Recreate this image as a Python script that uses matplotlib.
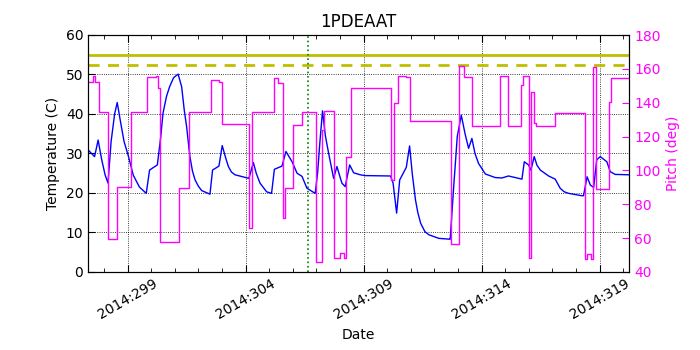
import matplotlib
matplotlib.use("Agg")
import matplotlib.pyplot as plt
from matplotlib.ticker import FuncFormatter, MultipleLocator

# Temperature trace (day of year 2014, deg C)
temp_days = [297.36, 297.60, 297.75, 297.90, 298.05, 298.17, 298.30, 298.45,
             298.56, 298.70, 298.85, 299.02, 299.24, 299.50,
             299.79, 299.93, 300.26, 300.40, 300.50, 300.65, 300.78, 300.95,
             301.14, 301.29, 301.40, 301.50,
             301.64, 301.75, 301.86, 302.00, 302.14, 302.49, 302.60, 302.87,
             303.01, 303.15, 303.27, 303.40,
             303.55, 304.14, 304.33, 304.45, 304.61, 304.89, 305.10, 305.22,
             305.54, 305.71, 305.97, 306.18, 306.39, 306.60, 306.95, 307.05,
             307.15, 307.26, 307.38, 307.52,
             307.73, 307.87, 308.08, 308.22, 308.41, 308.58, 308.86, 309.07,
             310.14, 310.25, 310.40, 310.53, 310.81, 310.95, 311.06, 311.20,
             311.30, 311.42, 311.60, 311.77, 312.19, 312.64, 312.67, 312.80,
             312.97, 313.14, 313.30, 313.45,
             313.59, 313.72, 313.87, 314.16, 314.58, 314.86, 315.14, 315.43,
             315.71, 315.81, 315.99, 316.09, 316.23, 316.35, 316.49, 316.84,
             317.12, 317.33, 317.50,
             317.69, 318.25, 318.32, 318.47, 318.61, 318.75, 318.88, 319.03,
             319.31, 319.45, 319.66, 320.26]
temp_vals = [30.7, 29.2, 33.4, 28.5, 24.5, 22.5, 33.0, 40.0,
             42.9, 38.0, 33.0, 29.6, 24.5, 21.5,
             19.9, 25.8, 27.1, 34.0, 40.2, 44.5, 46.9, 49.2,
             50.1, 46.9, 41.0, 36.8,
             29.2, 25.5, 23.3, 21.7, 20.6, 19.7, 25.8, 26.8,
             32.0, 29.0, 26.7, 25.3,
             24.6, 23.7, 27.7, 25.0, 22.5, 20.3, 19.9, 26.0,
             26.8, 30.5, 27.9, 25.0, 24.2, 21.2, 19.9, 25.0,
             33.0, 40.8, 34.5, 30.0,
             23.7, 26.7, 22.5, 21.6, 27.1, 25.1, 24.6, 24.4,
             24.3, 22.5, 14.9, 23.3, 26.5, 31.9, 25.0, 18.2,
             15.0, 12.3, 10.2, 9.4, 8.5, 8.3, 8.3, 20.0,
             34.3, 39.7, 35.0, 31.3,
             33.8, 30.0, 27.5, 24.8, 23.9, 23.8, 24.3, 23.9,
             23.5, 27.9, 27.1, 25.8, 29.2, 27.0, 25.8, 24.3,
             23.5, 21.2, 20.3,
             19.9, 19.3, 19.3, 24.1, 22.0, 21.4, 28.4, 29.2,
             27.9, 25.4, 24.7, 24.6]

# Pitch steps (day of year 2014, deg)
pitch_days = [297.36, 297.53, 297.62, 297.77, 298.18, 298.56, 299.13, 299.83,
              300.19, 300.29, 300.39, 301.16, 301.60, 302.52, 302.87, 303.01,
              304.14, 304.28, 305.19, 305.36, 305.58, 305.68, 306.01, 306.39,
              307.00, 307.24, 307.31, 307.76, 308.01, 308.19, 308.27, 308.47,
              310.16, 310.27, 310.45, 310.78, 310.96, 312.69, 313.03, 313.24,
              313.58, 314.76, 315.10, 315.69, 315.77, 316.00, 316.11, 316.22,
              316.31, 317.12, 318.39, 318.47, 318.65, 318.72, 318.83, 319.38,
              319.47, 320.26]
pitch_vals = [152.4, 156.0, 152.4, 134.3, 59.5, 90.0, 134.3, 155.4,
              156.0, 148.5, 57.9, 89.8, 134.3, 153.4, 152.4, 127.2,
              65.8, 134.7, 154.4, 151.8, 72.1, 89.4, 126.8, 134.7,
              46.0, 123.9, 135.1, 48.1, 51.0, 48.1, 107.7, 148.5,
              94.3, 139.6, 156.0, 155.4, 129.2, 56.4, 161.5, 155.4,
              126.4, 155.8, 126.4, 150.5, 155.8, 48.4, 146.3, 128.0,
              126.2, 134.0, 47.5, 50.4, 47.5, 161.3, 89.0, 140.6,
              154.4, 154.4]

planning_limit = 55.0
caution_limit = 52.5
now_day = 306.63

fig = plt.figure(figsize=(7, 3.5), dpi=100)
ax1 = fig.add_axes([0.126, 0.223, 0.773, 0.677])
ax1.plot(temp_days, temp_vals, color="b", lw=1)
ax1.axhline(planning_limit, color=(0.75, 0.75, 0), lw=2)
ax1.axhline(caution_limit, color=(0.75, 0.75, 0), lw=2, ls=(0, (4, 3)))
ax1.axvline(now_day, color="g", lw=1.2, ls=":")
ax1.set_ylim(0, 60)
ax1.set_xlim(297.33, 320.26)
ax1.set_ylabel("Temperature (C)")
ax1.set_xlabel("Date")
ax1.set_title("1PDEAAT")
ax1.xaxis.set_minor_locator(MultipleLocator(1))
ax1.xaxis.set_major_formatter(FuncFormatter(lambda d, pos: "2014:%d" % round(d)))
ax1.set_xticks([299, 304, 309, 314, 319])
ax1.grid(True, color="k", ls=":", lw=0.6)
ax1.tick_params(which="both", direction="in", top=True)
ax1.tick_params(which="major", length=5)
ax1.tick_params(which="minor", length=3)
for lbl in ax1.get_xticklabels():
    lbl.set_rotation(30)
    lbl.set_ha("center")

ax2 = ax1.twinx()
ax2.plot(pitch_days, pitch_vals, color="#ff00ff", lw=1, drawstyle="steps-post")
ax2.set_ylim(40, 180)
ax2.set_yticks(range(40, 181, 20))
ax2.set_ylabel("Pitch (deg)", color="#ff00ff")
ax2.tick_params(axis="y", colors="#ff00ff", direction="in", length=5)
ax2.spines["right"].set_color("k")
ax2.set_xlim(297.33, 320.26)

fig.savefig("out.png", dpi=100)
